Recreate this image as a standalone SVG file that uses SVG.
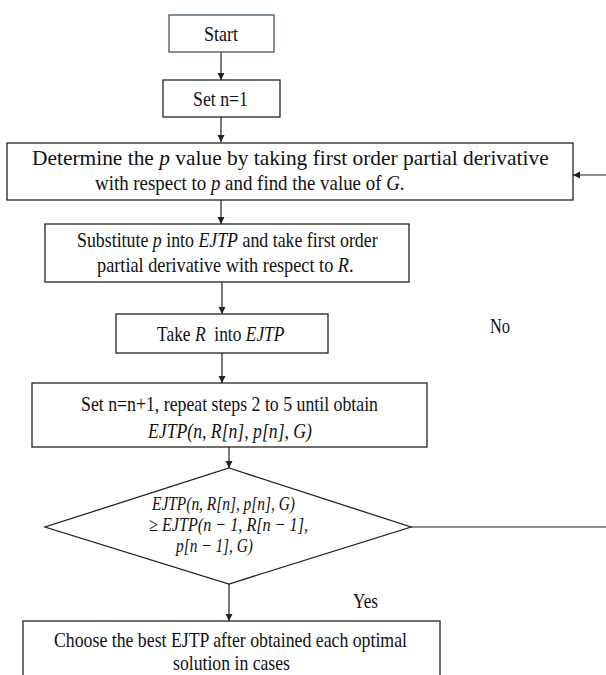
<svg xmlns="http://www.w3.org/2000/svg" width="606" height="675" viewBox="0 0 606 675">
<style>
.box{fill:#fff;stroke:#222;stroke-width:1.3}
.start{fill:#fff;stroke:#44546a;stroke-width:1.3}
.t{font-family:"Liberation Serif","Times New Roman",serif;font-size:21px;fill:#111}
.d{font-size:19px}
.i{font-style:italic}
.ln{stroke:#222;stroke-width:1.2;fill:none}
</style>
<defs>
<marker id="ah" markerWidth="8" markerHeight="8" refX="7" refY="4" orient="auto" markerUnits="userSpaceOnUse">
<path d="M0,0.5 L7,4 L0,7.5 z" fill="#222"/>
</marker>
</defs>
<rect width="606" height="675" fill="#fff"/>
<g id="connectors">
<line class="ln" x1="221" y1="52" x2="221" y2="80" marker-end="url(#ah)"/>
<line class="ln" x1="221" y1="117" x2="221" y2="142" marker-end="url(#ah)"/>
<line class="ln" x1="221" y1="200" x2="221" y2="224" marker-end="url(#ah)"/>
<line class="ln" x1="222" y1="282" x2="222" y2="314" marker-end="url(#ah)"/>
<line class="ln" x1="222" y1="353" x2="222" y2="383" marker-end="url(#ah)"/>
<line class="ln" x1="229" y1="447" x2="229" y2="468" marker-end="url(#ah)"/>
<line class="ln" x1="229" y1="584" x2="229" y2="621" marker-end="url(#ah)"/>
<line class="ln" x1="411" y1="527" x2="606" y2="527"/>
<line class="ln" x1="606" y1="175" x2="573" y2="175" marker-end="url(#ah)"/>
<text class="t" x="490" y="333" textLength="20" lengthAdjust="spacingAndGlyphs">No</text>
<text class="t" x="353" y="608" textLength="25" lengthAdjust="spacingAndGlyphs">Yes</text>
</g>
<g id="start">
<rect class="start" x="169" y="15" width="105" height="37"/>
<text class="t" x="204" y="41" textLength="34" lengthAdjust="spacingAndGlyphs">Start</text>
</g>
<g id="set-n1">
<rect class="box" x="163" y="80" width="117" height="37"/>
<text class="t" x="193" y="106" textLength="55" lengthAdjust="spacingAndGlyphs">Set n=1</text>
</g>
<g id="determine-p">
<rect class="box" x="7" y="143" width="566" height="57"/>
<text class="t" transform="translate(32,165) scale(1.02,1)">Determine the <tspan class="i">p</tspan> value by taking first order partial derivative</text>
<text class="t" transform="translate(95,190) scale(0.9,1)">with respect to <tspan class="i">p</tspan> and find the value of <tspan class="i">G</tspan>.</text>
</g>
<g id="substitute">
<rect class="box" x="45" y="224" width="364" height="58"/>
<text class="t" transform="translate(77,247) scale(0.85,1)">Substitute <tspan class="i">p</tspan> into <tspan class="i">EJTP</tspan> and take first order</text>
<text class="t" transform="translate(97,272) scale(0.87,1)">partial derivative with respect to <tspan class="i">R</tspan>.</text>
</g>
<g id="take-r">
<rect class="box" x="116" y="314" width="212" height="39"/>
<text class="t" transform="translate(157,341) scale(0.83,1)" xml:space="preserve">Take <tspan class="i">R</tspan>  into <tspan class="i">EJTP</tspan></text>
</g>
<g id="set-n-plus">
<rect class="box" x="32" y="383" width="395" height="64"/>
<text class="t" x="81" y="411" textLength="297" lengthAdjust="spacingAndGlyphs">Set n=n+1, repeat steps 2 to 5 until obtain</text>
<text class="t i" x="148" y="438" textLength="164" lengthAdjust="spacingAndGlyphs">EJTP(n, R[n], p[n], G)</text>
</g>
<g id="decision">
<polygon class="box" points="229,468 411,527 229,584 45,527"/>
<text class="t d i" x="152" y="510" textLength="143" lengthAdjust="spacingAndGlyphs">EJTP(n, R[n], p[n], G)</text>
<text class="t d i" x="149" y="531" textLength="159" lengthAdjust="spacingAndGlyphs">≥ EJTP(n − 1, R[n − 1],</text>
<text class="t d i" x="176" y="552" textLength="77" lengthAdjust="spacingAndGlyphs">p[n − 1], G)</text>
</g>
<g id="choose">
<rect class="box" x="23" y="621" width="417" height="70"/>
<text class="t" x="54" y="647" textLength="353" lengthAdjust="spacingAndGlyphs">Choose the best EJTP after obtained each optimal</text>
<text class="t" x="173" y="670" textLength="117" lengthAdjust="spacingAndGlyphs">solution in cases</text>
</g>
</svg>
